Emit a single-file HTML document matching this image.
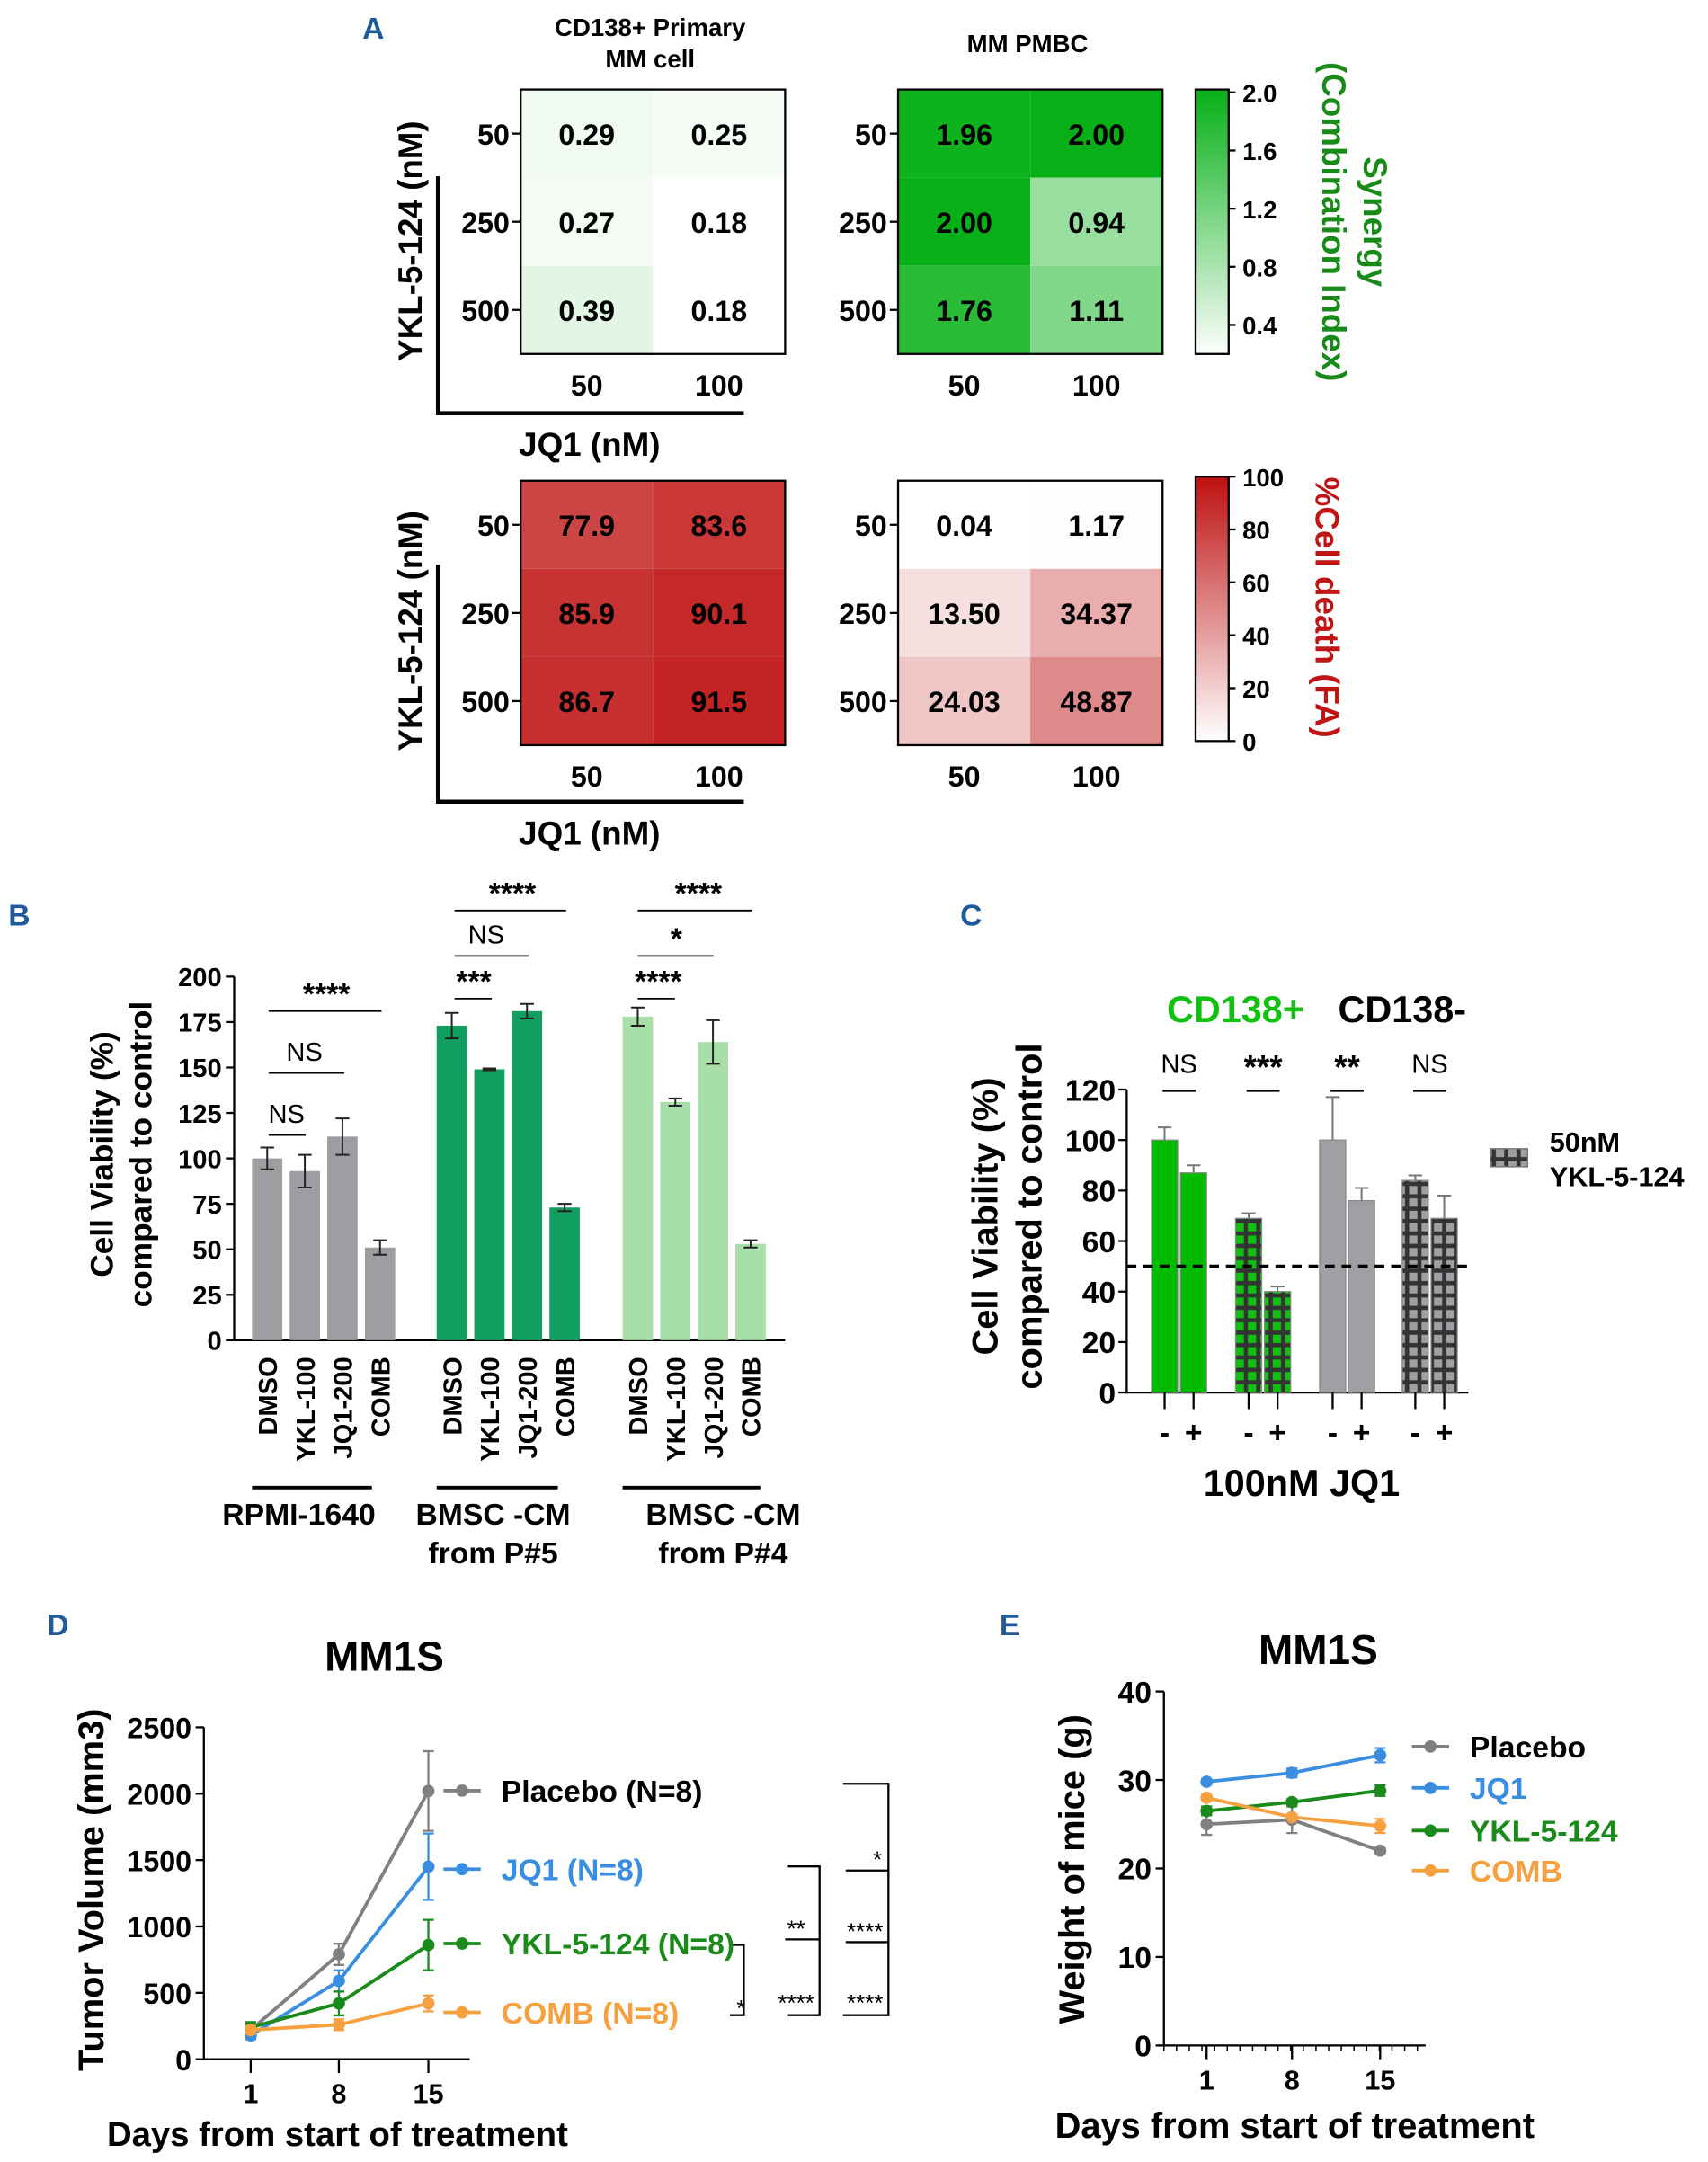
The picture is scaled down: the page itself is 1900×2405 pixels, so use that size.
<!DOCTYPE html>
<html><head><meta charset="utf-8"><style>
html,body{margin:0;padding:0;background:#fff;}
svg{display:block;font-family:"Liberation Sans",sans-serif;font-weight:bold;}
</style></head><body>
<svg id="fig" width="1900" height="2405" viewBox="0 0 1240 1569.6" xmlns="http://www.w3.org/2000/svg">
<defs>
<pattern id="pg" width="9" height="9" patternUnits="userSpaceOnUse"><rect width="9" height="9" fill="#10c010"/><rect x="3" y="0" width="3" height="9" fill="#333"/><rect x="0" y="3" width="9" height="3" fill="#333"/></pattern>
<pattern id="pa" width="9" height="9" patternUnits="userSpaceOnUse"><rect width="9" height="9" fill="#a0a0a4"/><rect x="3" y="0" width="3" height="9" fill="#333"/><rect x="0" y="3" width="9" height="3" fill="#333"/></pattern>
</defs>
<g id="static" fill="#000">
<text x="271" y="28" font-size="22" fill="#1f5a9a" text-anchor="middle">A</text>
<text x="14" y="672" font-size="22" fill="#1f5a9a" text-anchor="middle">B</text>
<text x="705" y="672" font-size="22" fill="#1f5a9a" text-anchor="middle">C</text>
<text x="42" y="1187" font-size="22" fill="#1f5a9a" text-anchor="middle">D</text>
<text x="733" y="1187" font-size="22" fill="#1f5a9a" text-anchor="middle">E</text>
<text x="472" y="26" font-size="18" text-anchor="middle">CD138+ Primary</text>
<text x="472" y="49" font-size="18" text-anchor="middle">MM cell</text>
<text x="746" y="38" font-size="18" text-anchor="middle">MM PMBC</text>
<text transform="translate(306,175) rotate(-90)" font-size="24" text-anchor="middle">YKL-5-124 (nM)</text>
<text transform="translate(306,458) rotate(-90)" font-size="24" text-anchor="middle">YKL-5-124 (nM)</text>
<path d="M318,128V300H540" fill="none" stroke="#000" stroke-width="3"/>
<path d="M318,410V582H540" fill="none" stroke="#000" stroke-width="3"/>
<text x="428" y="331" font-size="24" text-anchor="middle">JQ1 (nM)</text>
<text x="428" y="613" font-size="24" text-anchor="middle">JQ1 (nM)</text>
<text transform="translate(990,161) rotate(90)" font-size="24" fill="#178a17" text-anchor="middle">Synergy</text>
<text transform="translate(960,161) rotate(90)" font-size="24" fill="#178a17" text-anchor="middle">(Combination Index)</text>
<text transform="translate(955,441) rotate(90)" font-size="24" fill="#c01515" text-anchor="middle">%Cell death (FA)</text>
<text transform="translate(82,838) rotate(-90)" font-size="23" text-anchor="middle">Cell Viability (%)</text>
<text transform="translate(110,838) rotate(-90)" font-size="23" text-anchor="middle">compared to control</text>
<text transform="translate(724,883) rotate(-90)" font-size="26" text-anchor="middle">Cell Viability (%)</text>
<text transform="translate(756,883) rotate(-90)" font-size="26" text-anchor="middle">compared to control</text>
<text x="897" y="742" font-size="27" fill="#12c012" text-anchor="middle">CD138+</text>
<text x="1018" y="742" font-size="27" text-anchor="middle">CD138-</text>
<text x="945" y="1086" font-size="27" text-anchor="middle">100nM JQ1</text>
<rect x="1082" y="834" width="27" height="13" fill="url(#pa)" stroke="#777"/>
<text x="1125" y="836" font-size="20">50nM</text>
<text x="1125" y="861" font-size="20">YKL-5-124</text>
<text x="279" y="1213" font-size="30" text-anchor="middle">MM1S</text>
<text transform="translate(75,1372) rotate(-90)" font-size="26" text-anchor="middle">Tumor Volume (mm3)</text>
<text x="245" y="1558" font-size="25" text-anchor="middle">Days from start of treatment</text>
<text x="957" y="1208" font-size="30" text-anchor="middle">MM1S</text>
<text transform="translate(787,1357) rotate(-90)" font-size="26" text-anchor="middle">Weight of mice (g)</text>
<text x="940" y="1552" font-size="26" text-anchor="middle">Days from start of treatment</text>
<g fill="none" stroke="#000" stroke-width="1.5">
<path d="M530,1412H540V1463H530"/>
<path d="M572,1355H595V1463H572M570,1408H595"/>
<path d="M612,1295H645V1463H612M614,1358H645M614,1410H645"/>
</g>
<g font-size="17" font-weight="normal" text-anchor="middle">
<text x="538" y="1464">*</text><text x="578" y="1406">**</text><text x="578" y="1460">****</text>
<text x="637" y="1356">*</text><text x="628" y="1408">****</text><text x="628" y="1460">****</text>
</g>
</g>
<g id="dyn"></g>
</svg>
<script>
// ---------- Panel A data ----------
const doseRows = ["50","250","500"];
const doseCols = ["50","100"];
const synPrimary = [[0.29,0.25],[0.27,0.18],[0.39,0.18]];
const synPMBC = [[1.96,2.00],[2.00,0.94],[1.76,1.11]];
const deathPrimary = [[77.9,83.6],[85.9,90.1],[86.7,91.5]];
const deathPMBC = [[0.04,1.17],[13.50,34.37],[24.03,48.87]];
const deathLabels = [["0.04","1.17"],["13.50","34.37"],["24.03","48.87"]];
const synTicks = [2.0,1.6,1.2,0.8,0.4];
const deathTicks = [100,80,60,40,20,0];
// ---------- Panel B data ----------
const bCats = ["DMSO","YKL-100","JQ1-200","COMB"];
const bGroups = ["RPMI-1640","BMSC -CM|from P#5","BMSC -CM|from P#4"];
const bVals = [[100,93,112,51],[173,149,181,73],[178,131,164,53]];
const bErrs = [[6,9,10,4],[7,0.5,4,2],[5,2,12,2]];
const bTicks = [0,25,50,75,100,125,150,175,200];
// ---------- Panel C data ----------
const cVals = [100,87,69,40,100,76,84,69];
const cErrs = [5,3,2,2,17,5,2,9];
const cSig = ["NS","***","**","NS"];
const cTicks = [0,20,40,60,80,100,120];
// ---------- Panel D data ----------
const days = [1,8,15];
const dNames = ["Placebo (N=8)","JQ1 (N=8)","YKL-5-124 (N=8)","COMB (N=8)"];
const dVals = [[220,790,2020],[180,590,1450],[240,420,860],[220,260,420]];
const dErrs = [[40,80,300],[30,80,250],[40,90,190],[30,40,60]];
const dTicks = [0,500,1000,1500,2000,2500];
// ---------- Panel E data ----------
const eNames = ["Placebo","JQ1","YKL-5-124","COMB"];
const eVals = [[25,25.5,22],[29.8,30.8,32.8],[26.5,27.5,28.8],[28,25.8,24.8]];
const eErrs = [[1.2,1.5,0.3],[0.3,0.5,0.8],[0.5,0.3,0.6],[0.3,0.3,0.8]];
const eTicks = [0,10,20,30,40];
const seriesColors = ["#808080","#3a8ee0","#1a8a1a","#f7a040"];

const NS="http://www.w3.org/2000/svg";
const root=document.getElementById('dyn');
function mk(tag,attrs,parent){const e=document.createElementNS(NS,tag);for(const k in attrs)e.setAttribute(k,attrs[k]);(parent||root).appendChild(e);return e;}
function txt(x,y,s,size,extra,parent){const t=mk('text',Object.assign({x:x,y:y,'font-size':size},extra||{}),parent);t.textContent=s;return t;}

function mix(c1,c2,t){return 'rgb('+c1.map((v,i)=>Math.round(v+(c2[i]-v)*t)).join(',')+')';}
function greenCol(v){const t=Math.max(0,Math.min(1,(v-0.18)/(2.0-0.18)));return mix([255,255,255],[8,176,24],t);}
function redCol(v){const t=Math.max(0,Math.min(1,v/100));return mix([255,255,255],[190,16,16],t);}

function heatmap(x0,y0,vals,labels,colf,name){
  const cw=96,ch=64;
  vals.forEach((row,r)=>row.forEach((v,c)=>{
    const rc=mk('rect',{x:x0+c*cw,y:y0+r*ch,width:cw,height:ch,fill:colf(v)});
    
    
    const t=txt(x0+c*cw+cw/2,y0+r*ch+ch/2+8,labels?labels[r][c]:v.toFixed(2),21,{'text-anchor':'middle'});
    
    
  }));
  const b=mk('rect',{x:x0,y:y0,width:cw*2,height:ch*3,fill:'none',stroke:'#000','stroke-width':1.5});
  
  
  doseRows.forEach((s,r)=>{
    const t=txt(x0-8,y0+r*ch+ch/2+8,s,21,{'text-anchor':'end'});
    
    
    mk('line',{x1:x0-6,x2:x0,y1:y0+r*ch+ch/2,y2:y0+r*ch+ch/2,stroke:'#000','stroke-width':1.5});
  });
  doseCols.forEach((s,c)=>{
    const t=txt(x0+c*cw+cw/2,y0+ch*3+30,s,21,{'text-anchor':'middle'});
    
    
  });
}
heatmap(378,65,synPrimary,null,greenCol,'synergy-primary');
heatmap(652,65,synPMBC,null,greenCol,'synergy-pmbc');
heatmap(378,349,deathPrimary,deathPrimary.map(r=>r.map(v=>v.toFixed(1))),redCol,'death-primary');
heatmap(652,349,deathPMBC,deathLabels,redCol,'death-pmbc');

function colorbar(y0,h,lo,hi,ticks,colf,name,fmt){
  const g=mk('linearGradient',{id:name+'g',x1:0,y1:1,x2:0,y2:0},document.querySelector('defs'));
  for(let i=0;i<=10;i++){mk('stop',{offset:i/10,'stop-color':colf(lo+(hi-lo)*i/10)},g);}
  const r=mk('rect',{x:868,y:y0,width:24,height:h,fill:'url(#'+name+'g)',stroke:'#000','stroke-width':1.5});
  
  
  ticks.forEach(v=>{const y=y0+h-(v-lo)/(hi-lo)*h;
    mk('line',{x1:892,x2:897,y1:y,y2:y,stroke:'#000','stroke-width':1.5});
    const t=txt(902,y+7,fmt(v),18,{});
    
    });
}
colorbar(65,192,0.2,2.02,synTicks,greenCol,'synergy-colorbar',v=>v.toFixed(1));
colorbar(346,192,0,100,deathTicks,redCol,'death-colorbar',v=>String(v));

// ---------- Panel B ----------
(function(){
  const ax=170,y0=973,sc=264/200;
  const yB=v=>y0-v*sc;
  const gx=[183,317,452],step=27.3,bw=22;
  const fills=["#9e9ea2","#129e5e","#a8dfa8"];
  const ul=[[183,270],[317,405],[452,552]];
  mk('path',{d:`M${ax},${yB(200)}V${y0}H570`,fill:'none',stroke:'#000','stroke-width':1.5});
  bTicks.forEach(v=>{mk('line',{x1:ax-6,x2:ax,y1:yB(v),y2:yB(v),stroke:'#000','stroke-width':1.5});
    const t=txt(ax-9,yB(v)+7,String(v),19,{'text-anchor':'end'});
    
    });
  bVals.forEach((grp,g)=>{
    grp.forEach((v,i)=>{
      const x=gx[g]+i*step;
      const r=mk('rect',{x:x,y:yB(v),width:bw,height:v*sc,fill:fills[g]});
      
      
      const e=bErrs[g][i],cx=x+bw/2;
      mk('path',{d:`M${cx},${yB(v-e)}V${yB(v+e)}M${cx-5},${yB(v+e)}H${cx+5}M${cx-5},${yB(v-e)}H${cx+5}`,stroke:'#222','stroke-width':1.3,fill:'none'});
      const t=txt(0,0,bCats[i],19,{'text-anchor':'end',transform:`translate(${cx+7},985) rotate(-90)`});
      
      
    });
    mk('line',{x1:ul[g][0],x2:ul[g][1],y1:1080,y2:1080,stroke:'#000','stroke-width':2.5});
    const lines=bGroups[g].split('|'),cxg=[217,358,525][g];
    lines.forEach((s,k)=>{const t=txt(cxg,1107+k*28,s,22,{'text-anchor':'middle'});
      
      });
  });
  const sig=[[237,725,195,277,"****",1],[221,770,195,250,"NS",0],[208,815,195,222,"NS",0],
    [372,652,330,411,"****",1],[353,685,330,384,"NS",0],[344,716,330,357,"***",1],
    [507,652,463,546,"****",1],[491,685,463,518,"*",1],[478,716,463,490,"****",1]];
  sig.forEach(s=>{mk('line',{x1:s[2],x2:s[3],y1:s[1]+9,y2:s[1]+9,stroke:'#000','stroke-width':1.2});
    const t=txt(s[0],s[1]+(s[5]?4:0),s[4],s[5]?22:19,{'text-anchor':'middle','font-weight':s[5]?'bold':'normal'});
    
    });
})();

// ---------- Panel C ----------
(function(){
  const ax=818,y0=1011,sc=220/120;
  const yC=v=>y0-v*sc;
  const xs=[836,857,897,918,958,979,1018,1039],bw=19;
  const fl=["#00bb00","#00bb00","url(#pg)","url(#pg)","#a0a0a4","#a0a0a4","url(#pa)","url(#pa)"];
  mk('path',{d:`M${ax},${yC(120)}V${y0}H1066`,fill:'none',stroke:'#000','stroke-width':1.5});
  cTicks.forEach(v=>{mk('line',{x1:ax-6,x2:ax,y1:yC(v),y2:yC(v),stroke:'#000','stroke-width':1.5});
    const t=txt(ax-8,yC(v)+8,String(v),22,{'text-anchor':'end'});
    
    });
  cVals.forEach((v,i)=>{
    const r=mk('rect',{x:xs[i],y:yC(v),width:bw,height:v*sc,fill:fl[i],stroke:'#888','stroke-width':0.8});
    
    
    const cx=xs[i]+bw/2,e=cErrs[i];
    mk('path',{d:`M${cx},${yC(v)}V${yC(v+e)}M${cx-5},${yC(v+e)}H${cx+5}`,stroke:'#777','stroke-width':1.3,fill:'none'});
    mk('line',{x1:cx,x2:cx,y1:y0,y2:y0+12,stroke:'#000','stroke-width':1.5});
    const t=txt(cx,1047,i%2?'+':'-',22,{'text-anchor':'middle'});
    
    
  });
  mk('line',{x1:ax,x2:1066,y1:yC(50),y2:yC(50),stroke:'#000','stroke-width':2.5,'stroke-dasharray':'7,5'});
  cSig.forEach((s,k)=>{const cx=(xs[2*k]+xs[2*k+1]+bw)/2;
    mk('line',{x1:cx-12,x2:cx+12,y1:792,y2:792,stroke:'#000','stroke-width':1.5});
    const t=txt(cx,s=="NS"?779:783,s,s=="NS"?19:24,{'text-anchor':'middle','font-weight':s=="NS"?'normal':'bold'});
    
    });
})();

// ---------- Line chart helper ----------
function lineChart(o){
  const yS=v=>o.y0-(v-o.lo)/(o.hi-o.lo)*o.h;
  const xS=d=>o.xs[days.indexOf(d)];
  mk('path',{d:`M${o.ax},${yS(o.hi)}V${o.y0}H${o.xend}`,fill:'none',stroke:'#000','stroke-width':1.5});
  o.ticks.forEach(v=>{mk('line',{x1:o.ax-6,x2:o.ax,y1:yS(v),y2:yS(v),stroke:'#000','stroke-width':1.5});
    const t=txt(o.ax-9,yS(v)+8,String(v),o.tfs,{'text-anchor':'end'});
    
    });
  days.forEach(d=>{mk('line',{x1:xS(d),x2:xS(d),y1:o.y0,y2:o.y0+10,stroke:'#000','stroke-width':1.5});
    const t=txt(xS(d),o.y0+32,String(d),20,{'text-anchor':'middle'});
    
    });
  if(o.minor){for(let x=o.ax;x<=o.xend;x+=9.2)mk('line',{x1:x,x2:x,y1:o.y0,y2:o.y0+4,stroke:'#000','stroke-width':1});}
  o.vals.forEach((ser,s)=>{
    const col=seriesColors[s];
    const p=mk('polyline',{points:ser.map((v,i)=>xS(days[i])+','+yS(v)).join(' '),fill:'none',stroke:col,'stroke-width':2.5});
    
    
    ser.forEach((v,i)=>{const x=xS(days[i]),e=o.errs[s][i];
      mk('path',{d:`M${x},${yS(v-e)}V${yS(v+e)}M${x-4},${yS(v+e)}H${x+4}M${x-4},${yS(v-e)}H${x+4}`,stroke:col,'stroke-width':1.5,fill:'none'});
      const c=mk('circle',{cx:x,cy:yS(v),r:4.5,fill:col});
      
      });
    const ly=o.legY[s];
    mk('line',{x1:o.legX,x2:o.legX+27,y1:ly,y2:ly,stroke:col,'stroke-width':2.5});
    mk('circle',{cx:o.legX+13.5,cy:ly,r:4.5,fill:col});
    const t=txt(o.legX+42,ly+8,o.names[s],22,{fill:s==0?'#000':col});
    
    
  });
}
lineChart({name:'d',ax:148,y0:1495,h:241,lo:0,hi:2500,xs:[182,246,311],xend:341,ticks:dTicks,tfs:21,vals:dVals,errs:dErrs,names:dNames,legX:322,legY:[1300,1357,1411,1461]});
lineChart({name:'e',ax:845,y0:1485,h:257,lo:0,hi:40,xs:[876,938,1002],xend:1035,ticks:eTicks,tfs:22,vals:eVals,errs:eErrs,names:eNames,legX:1025,legY:[1268,1298,1329,1358],minor:true});
</script>
</body></html>
